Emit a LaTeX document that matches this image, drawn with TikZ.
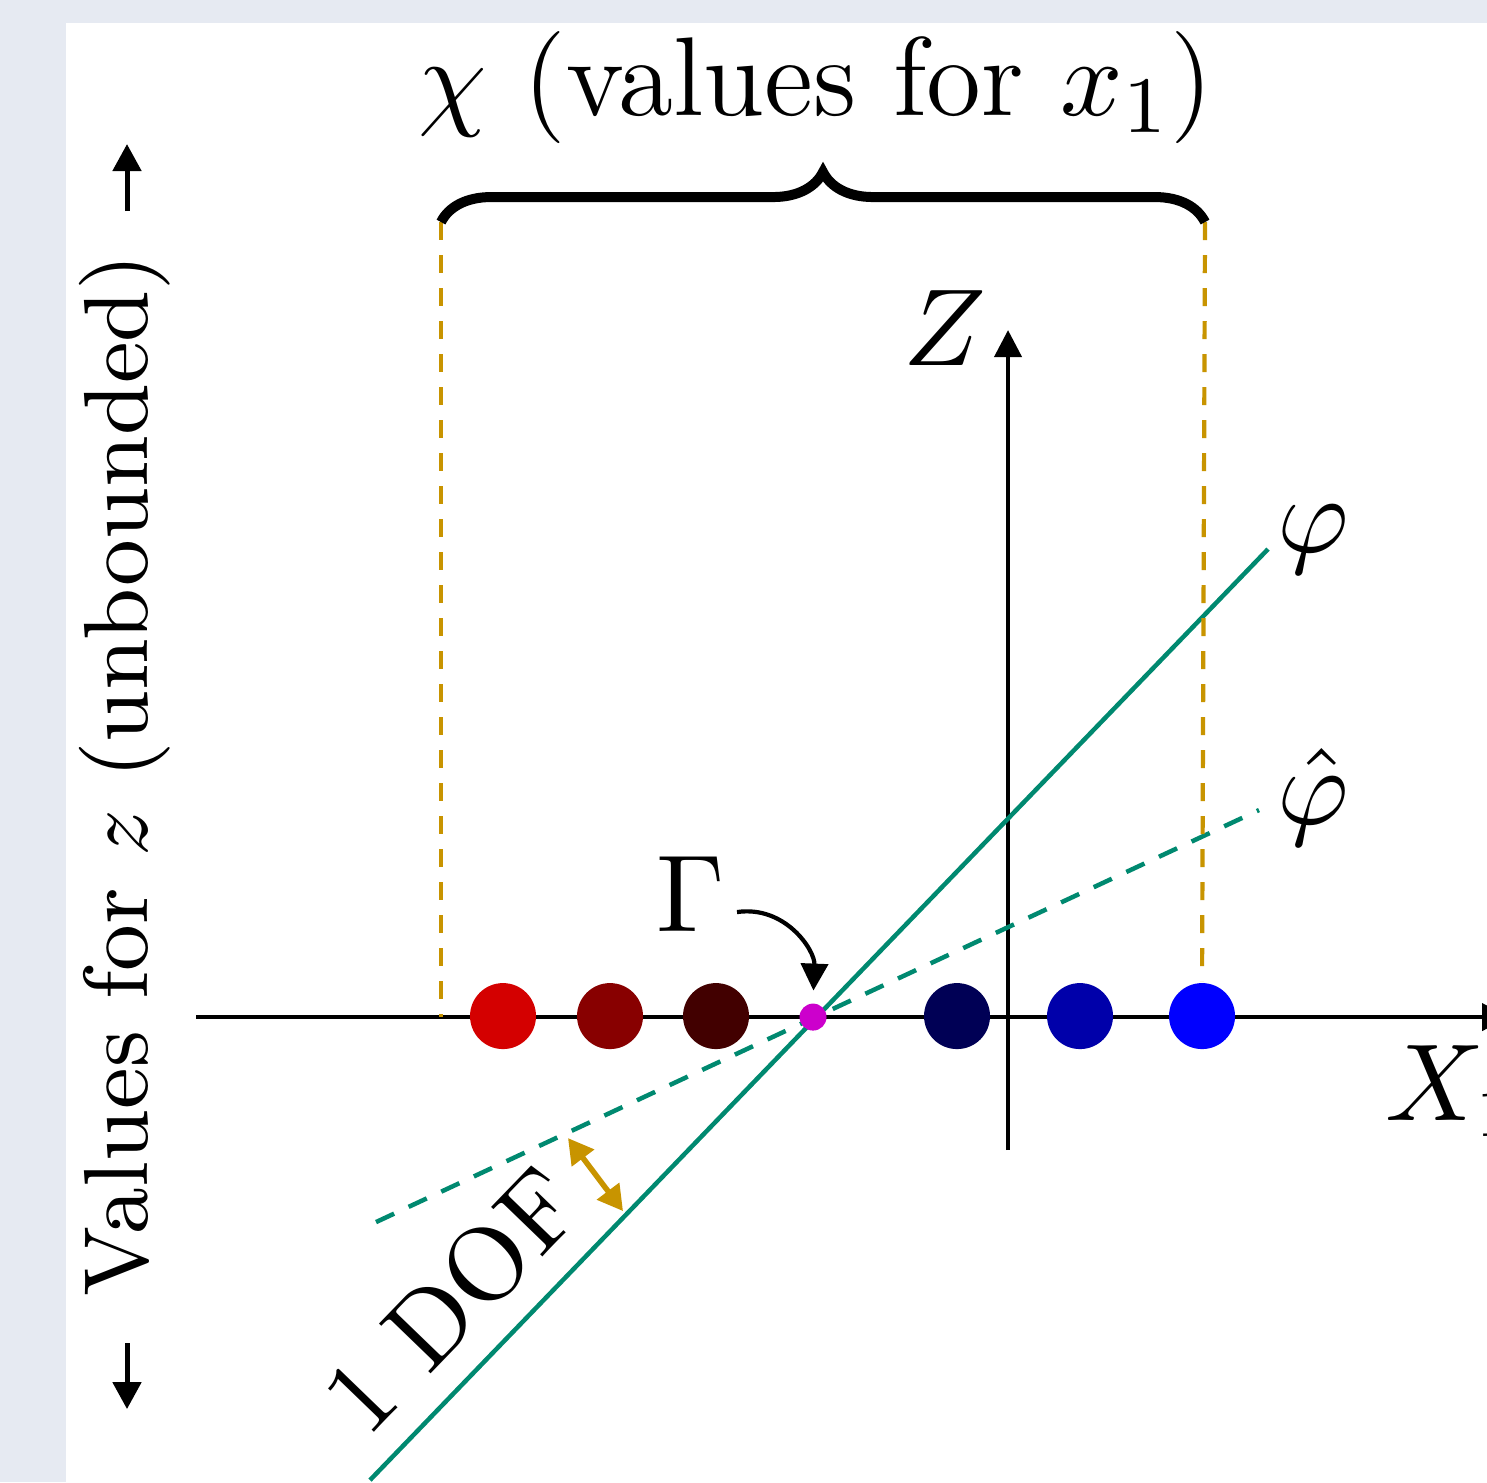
\documentclass[tikz,border=0pt]{standalone}
\usetikzlibrary{arrows.meta,decorations.pathreplacing}
\definecolor{bgout}{RGB}{230,234,242}
\definecolor{dofgreen}{RGB}{0,137,112}
\definecolor{goldc}{RGB}{200,148,0}
\definecolor{redA}{RGB}{212,0,0}
\definecolor{redB}{RGB}{136,0,0}
\definecolor{redC}{RGB}{66,0,0}
\definecolor{blueA}{RGB}{0,0,85}
\definecolor{blueB}{RGB}{0,0,170}
\definecolor{blueC}{RGB}{0,0,255}
\definecolor{magdot}{RGB}{204,0,204}
\begin{document}
\begin{tikzpicture}[x=0.1pt,y=-0.1pt,
  tip/.style={-{Triangle[length=2.7pt,width=2.7pt]}},
  axis/.style={line width=0.42pt,tip},
  ball/.style={circle,inner sep=0pt,minimum size=6.6pt,fill=#1},
  lbl/.style={inner sep=0pt,font={\fontsize{10.5}{12}\selectfont}},
  titlelbl/.style={inner sep=0pt,font={\fontsize{11.2}{13}\selectfont}},
  sidelbl/.style={inner sep=0pt,font={\fontsize{9.1}{11}\selectfont}},
  golddash/.style={goldc,line width=0.42pt,dash pattern=on 1.8pt off 1.5pt},
  greenline/.style={dofgreen,line width=0.45pt},
  greendash/.style={dofgreen,line width=0.45pt,dash pattern=on 2pt off 1.6pt},
  sidearrow/.style={line width=0.5pt,-{Triangle[length=2.7pt,width=2.8pt]}}
]
\useasboundingbox (0,0) rectangle (1487,1482);
\clip (0,0) rectangle (1487,1482);
\fill[bgout] (0,0) rectangle (1487,1482);
\fill[white] (66,23) rectangle (1487,1482);

% coordinates
\coordinate (xL) at (196,1017);
\coordinate (xR) at (1509,1017);
\coordinate (zB) at (1008,1150);
\coordinate (zT) at (1008,330);
\coordinate (solA) at (370,1480);
\coordinate (solB) at (1268,549);
\coordinate (dasA) at (376,1222);
\coordinate (dasB) at (1259,810);
\coordinate (brL) at (441,222);
\coordinate (brR) at (1205,222);
\coordinate (gL) at (441,1017);
\coordinate (gstart) at (737,912);
\coordinate (dofA) at (568,1138);
\coordinate (dofB) at (623,1211);
\coordinate (upA) at (127,211);
\coordinate (upB) at (127,144);
\coordinate (dnA) at (127,1343);
\coordinate (dnB) at (127,1409);

% axes
\draw[axis] (xL) -- (xR);
\draw[axis] (zB) -- (zT);

% lines
\draw[greenline] (solA) -- (solB);
\draw[greendash] (dasA) -- (dasB);

% balls
\node[ball=redA] (c1) at (503,1016) {};
\node[ball=redB] (c2) at (610,1016) {};
\node[ball=redC] (c3) at (716,1016) {};
\node[ball=blueA] (c4) at (957,1016) {};
\node[ball=blueB] (c5) at (1080,1016) {};
\node[ball=blueC] (c6) at (1202,1016) {};
\node[circle,inner sep=0pt,minimum size=2.7pt,fill=magdot] (pivot) at (813,1017) {};

% gold dashed guides
\draw[golddash] (brL) -- (gL);
\draw[golddash] (brR) -- (c6.north);

% brace
\draw[line width=1pt,decorate,decoration={brace,amplitude=5pt}] (brL) -- (brR);

% labels
\node[titlelbl] (title) at (816,88) {$\chi$ (values for $x_1$)};
\node[lbl] (zlab) at (945,328) {$Z$};
\node[lbl,anchor=base west] (xlab) at (1383,1120) {$X_1$};
\node[lbl] (phi) at (1313,540) {$\varphi$};
\node[lbl] (phihat) at (1313,797) {$\hat{\varphi}$};
\node[lbl] (gam) at (691,894) {$\Gamma$};
\node[lbl,rotate=46] (dof) at (452,1300) {1 DOF};
\node[sidelbl,rotate=90] (side) at (125,775) {Values for $z$ (unbounded)};

% Gamma arrow
\draw[line width=0.42pt,tip,shorten >=1.1pt] (gstart) .. controls (785,905) and (815,950) .. (pivot.north);

% DOF double arrow
\draw[goldc,line width=0.55pt,{Triangle[length=2.5pt,width=2.7pt]}-{Triangle[length=2.5pt,width=2.7pt]}] (dofA) -- (dofB);

% side arrows
\draw[sidearrow] (upA) -- (upB);
\draw[sidearrow] (dnA) -- (dnB);
\end{tikzpicture}
\end{document}
